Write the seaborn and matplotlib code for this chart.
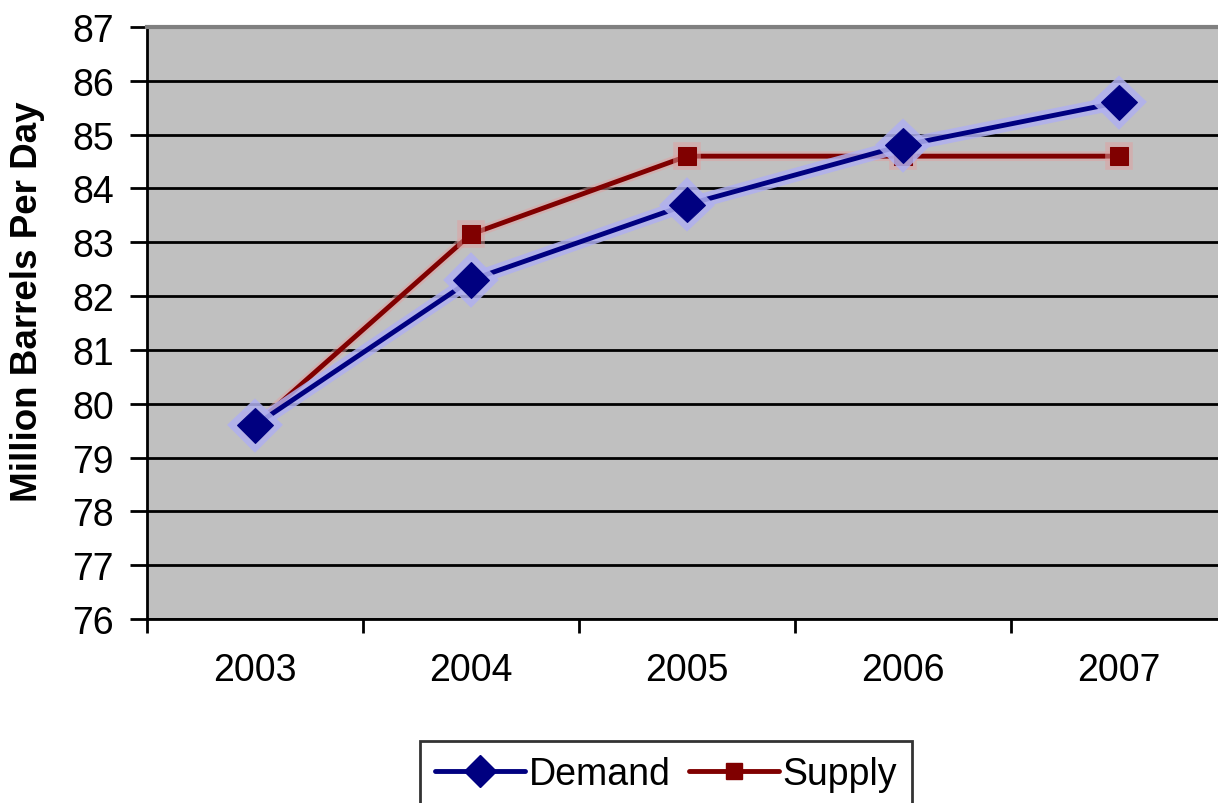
import matplotlib
matplotlib.use("Agg")
import matplotlib.pyplot as plt
import matplotlib.patheffects as pe
from matplotlib.lines import Line2D
import seaborn as sns
import pandas as pd
import numpy as np

# World oil balance, million barrels per day
years = ["2003", "2004", "2005", "2006", "2007"]
demand = [79.6, 82.3, 83.7, 84.8, 85.6]
supply = [79.6, 83.15, 84.6, 84.6, 84.6]

sns.set_style("white")
plt.rcParams["font.family"] = ["Liberation Sans", "DejaVu Sans"]
plt.rcParams["text.color"] = "black"
plt.rcParams["axes.labelcolor"] = "black"
plt.rcParams["xtick.color"] = "black"
plt.rcParams["ytick.color"] = "black"

df = pd.DataFrame({
    "pos": list(range(len(years))) * 2,
    "value": demand + supply,
    "series": ["Demand"] * len(years) + ["Supply"] * len(years),
})

fig = plt.figure(figsize=(12.18, 8.04), dpi=100)
ax = fig.add_axes([147 / 1218, 1 - 620 / 804, 1080 / 1218, 592 / 804])
ax.set_facecolor("#c0c0c0")

navy = "#000080"
maroon = "#800000"

sns.lineplot(data=df[df.series == "Supply"], x="pos", y="value", ax=ax,
             color=maroon, linewidth=3.5, marker="s", markersize=13,
             markeredgecolor=maroon, legend=False, zorder=4,
             path_effects=[pe.Stroke(linewidth=7, foreground="#e0a0a0", alpha=0.5), pe.Normal()])
sns.lineplot(data=df[df.series == "Demand"], x="pos", y="value", ax=ax,
             color=navy, linewidth=3.5, marker="D", markersize=18,
             markeredgecolor=navy, legend=False, zorder=5,
             path_effects=[pe.Stroke(linewidth=10, foreground="#b0b0f0", alpha=0.85), pe.Normal()])

ax.set_xlim(-0.5, len(years) - 0.5)
ax.set_ylim(76, 87)
ax.set_yticks(np.arange(76, 88, 1))
ax.yaxis.grid(True, color="black", linewidth=2)
ax.set_axisbelow(True)

ax.set_xticks(range(len(years)))
ax.set_xticklabels(years)
ax.set_xticks(np.arange(-0.5, len(years) - 0.4, 1), minor=True)
ax.tick_params(axis="x", which="major", length=0, pad=24, labelsize=27)
ax.tick_params(axis="x", which="minor", length=10, width=2, direction="out", color="black")
ax.tick_params(axis="y", length=12, width=2, direction="out", color="black", labelsize=27, pad=12)
ax.yaxis.set_tick_params(left=True)
ax.xaxis.set_tick_params(which="minor", bottom=True)

ax.set_xlabel("")
ax.set_ylabel("Million Barrels Per Day", fontsize=26.5, fontweight="bold")
ax.yaxis.set_label_coords(-0.094, 0.537)

for side in ["left", "bottom"]:
    ax.spines[side].set_color("black")
    ax.spines[side].set_linewidth(2)
ax.spines["top"].set_color("#808080")
ax.spines["top"].set_linewidth(3)
ax.spines["right"].set_visible(False)

handles = [
    Line2D([], [], color=navy, linewidth=3.5, marker="D", markersize=16, markeredgecolor=navy),
    Line2D([], [], color=maroon, linewidth=3.5, marker="s", markersize=11, markeredgecolor=maroon),
]
leg = fig.legend(handles, ["Demand", "Supply"], loc="upper center",
                 bbox_to_anchor=(666 / 1218, 1 - 742 / 804), ncol=2, fontsize=27,
                 frameon=True, fancybox=False, edgecolor="black", handlelength=2.4,
                 handletextpad=0.1, columnspacing=0.5, borderpad=0.4, borderaxespad=0)
leg.get_frame().set_linewidth(2)

fig.savefig("out.png", dpi=100, facecolor="white")
